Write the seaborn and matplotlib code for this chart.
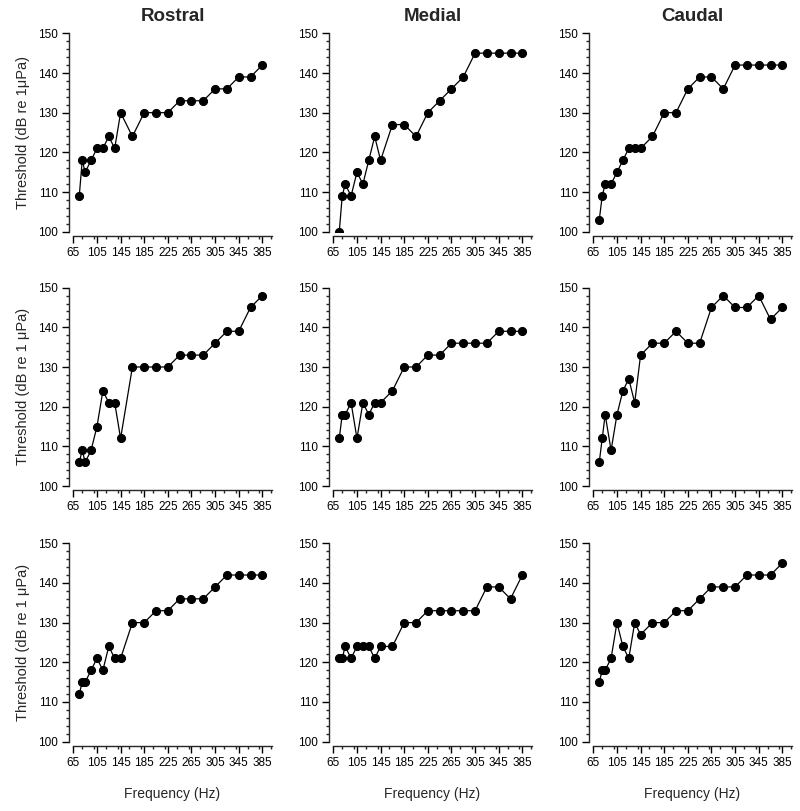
import pandas as pd
import matplotlib
matplotlib.use("Agg")
import matplotlib.pyplot as plt
import seaborn as sns
from matplotlib.ticker import MultipleLocator

# frequencies (Hz) shared by every panel
freqs = [75, 80, 85, 95, 105, 115, 125, 135, 145, 165, 185, 205,
         225, 245, 265, 285, 305, 325, 345, 365, 385]

# thresholds (dB re 1 uPa), row by row
rostral_1 = [109, 118, 115, 118, 121, 121, 124, 121, 130, 124, 130, 130,
             130, 133, 133, 133, 136, 136, 139, 139, 142]
medial_1 = [100, 109, 112, 109, 115, 112, 118, 124, 118, 127, 127, 124,
            130, 133, 136, 139, 145, 145, 145, 145, 145]
caudal_1 = [103, 109, 112, 112, 115, 118, 121, 121, 121, 124, 130, 130,
            136, 139, 139, 136, 142, 142, 142, 142, 142]

rostral_2 = [106, 109, 106, 109, 115, 124, 121, 121, 112, 130, 130, 130,
             130, 133, 133, 133, 136, 139, 139, 145, 148]
medial_2 = [112, 118, 118, 121, 112, 121, 118, 121, 121, 124, 130, 130,
            133, 133, 136, 136, 136, 136, 139, 139, 139]
caudal_2 = [106, 112, 118, 109, 118, 124, 127, 121, 133, 136, 136, 139,
            136, 136, 145, 148, 145, 145, 148, 142, 145]

rostral_3 = [112, 115, 115, 118, 121, 118, 124, 121, 121, 130, 130, 133,
             133, 136, 136, 136, 139, 142, 142, 142, 142]
medial_3 = [121, 121, 124, 121, 124, 124, 124, 121, 124, 124, 130, 130,
            133, 133, 133, 133, 133, 139, 139, 136, 142]
caudal_3 = [115, 118, 118, 121, 130, 124, 121, 130, 127, 130, 130, 133,
            133, 136, 139, 139, 139, 142, 142, 142, 145]

titles = ["Rostral", "Medial", "Caudal"]
ylabels = ["Threshold (dB re 1\u03bcPa)", "Threshold (dB re 1 \u03bcPa)",
           "Threshold (dB re 1 \u03bcPa)"]
grid = [[rostral_1, medial_1, caudal_1],
        [rostral_2, medial_2, caudal_2],
        [rostral_3, medial_3, caudal_3]]

sns.set_theme(style="ticks")
plt.rcParams["font.family"] = ["Liberation Sans", "DejaVu Sans"]
plt.rcParams["axes.linewidth"] = 1.0

fig = plt.figure(figsize=(8, 8.11), dpi=100)

lefts = [0.0917, 0.4167, 0.7417]
bottoms = [0.7143, 0.4007, 0.0855]
w, h = 0.248, 0.2446

for r in range(3):
    for c in range(3):
        ax = fig.add_axes([lefts[c], bottoms[r], w, h])
        df = pd.DataFrame({"freq": freqs, "threshold": grid[r][c]})
        sns.lineplot(data=df, x="freq", y="threshold", ax=ax, color="black",
                     linewidth=0.9, marker="o", markersize=5.8,
                     markeredgecolor="black", markerfacecolor="black")
        ax.set_xlim(65, 401)
        ax.set_ylim(100, 150)
        ax.set_xticks(range(65, 386, 40))
        ax.xaxis.set_minor_locator(MultipleLocator(20))
        ax.yaxis.set_major_locator(MultipleLocator(10))
        ax.yaxis.set_minor_locator(MultipleLocator(2))
        ax.tick_params(axis="both", which="major", length=5, width=1,
                       labelsize=8.5, colors="black", pad=3)
        ax.tick_params(axis="both", which="minor", length=2.5, width=1)
        sns.despine(ax=ax, offset=3)
        ax.spines["left"].set_bounds(100, 150)
        ax.spines["bottom"].set_bounds(65, 401)
        ax.set_xlabel("")
        ax.set_ylabel("")
        if r == 0:
            ax.set_title(titles[c], fontsize=13.5, fontweight="bold", pad=9)
        if c == 0:
            ax.set_ylabel(ylabels[r], fontsize=10.5, labelpad=6)
        if r == 2:
            ax.set_xlabel("Frequency (Hz)", fontsize=10, labelpad=13)

fig.savefig("out.png", dpi=100, facecolor="white")
